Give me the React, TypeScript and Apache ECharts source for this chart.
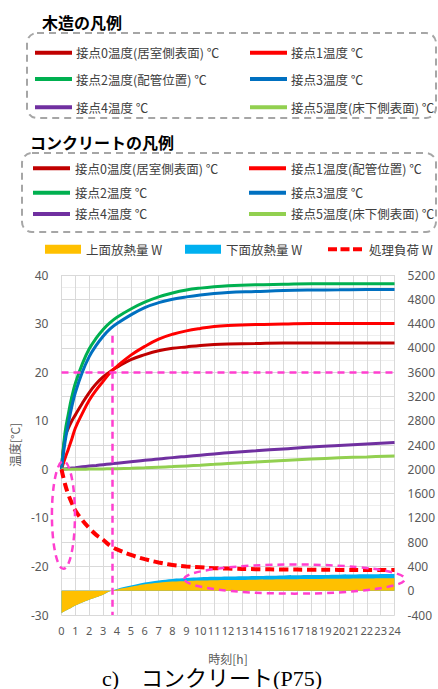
import React, { useEffect, useRef } from "react";
import * as echarts from "echarts";

// ---- data ----
const hours = [0, 0.25, 0.5, 0.75, 1, 1.5, 2, 2.5, 3, 3.5, 4, 5, 6, 7, 8, 9, 10, 11, 12, 14, 16, 18, 20, 22, 24];

const node0Temp = [0, 6.5, 8.5, 10, 11.2, 13.6, 15.8, 17.6, 19, 20.1, 21, 22.6, 23.6, 24.4, 24.9, 25.2, 25.5, 25.7, 25.8, 25.9, 26, 26, 26, 26, 26];
const node1Temp = [0, 2.2, 4.2, 6.3, 8.5, 11.5, 14.2, 16.3, 18.1, 19.9, 21.2, 23.5, 25.3, 26.8, 27.8, 28.5, 29, 29.4, 29.6, 29.8, 29.9, 30, 30, 30, 30];
const node2Temp = [0, 7.5, 11.5, 15, 17.7, 21.7, 24.8, 27, 28.8, 30.2, 31.3, 33, 34.4, 35.5, 36.3, 36.9, 37.3, 37.6, 37.8, 38, 38.1, 38.2, 38.2, 38.2, 38.2];
const node3Temp = [0, 5.5, 9.5, 13, 15.8, 20, 23.2, 25.5, 27.4, 28.9, 30, 31.8, 33.3, 34.3, 35, 35.5, 35.9, 36.2, 36.4, 36.6, 36.8, 36.9, 36.95, 37, 37];
const node4Temp = [0, 0.08, 0.17, 0.25, 0.33, 0.5, 0.66, 0.8, 0.95, 1.1, 1.25, 1.55, 1.85, 2.1, 2.4, 2.65, 2.9, 3.15, 3.4, 3.8, 4.2, 4.6, 4.9, 5.2, 5.5];
const node5Temp = [0, 0, 0, 0, 0, 0.02, 0.04, 0.06, 0.08, 0.1, 0.13, 0.2, 0.3, 0.42, 0.55, 0.7, 0.85, 1.02, 1.2, 1.5, 1.8, 2.1, 2.35, 2.55, 2.75];

const topHeat = [-370, -335, -305, -275, -245, -195, -150, -108, -65, -10, 22, 65, 105, 132, 150, 160, 167, 172, 176, 182, 188, 193, 197, 201, 204];
const bottomHeat = [0, 0, 0, 0, 0, 0, 0, 0, 0, 0, 8, 20, 30, 38, 45, 50, 53, 56, 58, 61, 64, 66, 68, 70, 71];
const processLoad = [2000, 1760, 1580, 1440, 1320, 1160, 1030, 920, 840, 740, 680, 590, 520, 465, 425, 400, 385, 372, 365, 355, 350, 346, 343, 341, 340];

const concreteLabels = [
  "接点0温度(居室側表面) ℃",
  "接点1温度(配管位置) ℃",
  "接点2温度 ℃",
  "接点3温度 ℃",
  "接点4温度 ℃",
  "接点5温度(床下側表面) ℃",
];
const woodLabels = [
  "接点0温度(居室側表面) ℃",
  "接点1温度 ℃",
  "接点2温度(配管位置) ℃",
  "接点3温度 ℃",
  "接点4温度 ℃",
  "接点5温度(床下側表面) ℃",
];
const heatLabels = ["上面放熱量 W", "下面放熱量 W", "処理負荷 W"];

const woodTitle = "木造の凡例";
const concreteTitle = "コンクリートの凡例";
const caption = "c)　コンクリート(P75)";
const xAxisName = "時刻[h]";
const yAxisName = "温度[°C]";

// annotation (reference marks)
const markTime = 3.65;
const markTemp = 20;
const markTopTemp = 27.5;

// ---- styles ----
const lineColors = ["#C00000", "#FF0000", "#00B050", "#0070C0", "#7030A0", "#92D050"];
const heatColors = ["#FFC000", "#00B0F0", "#FF0000"];
const MAGENTA = "#FF3FCF";
const FONT = '"Noto Sans CJK JP", "Noto Sans", sans-serif';
const AXIS_FONT = '"Noto Sans", "Noto Sans CJK JP", sans-serif';
const TEXT_COLOR = "#404040";
const AXIS_COLOR = "#595959";
const LEGEND_FS = 12.5;

const temps = [node0Temp, node1Temp, node2Temp, node3Temp, node4Temp, node5Temp];
const pairs = (vals: number[]) => hours.map((h, i) => [h, vals[i]]);
// stacked area: lower-side heat sits on top of upper-side heat
const stackedBottomHeat = topHeat.map((v, i) => v + bottomHeat[i]);

export default function App() {
  const ref = useRef<HTMLDivElement>(null);

  useEffect(() => {
    if (!ref.current) return;
    const chart = echarts.init(ref.current, null, { renderer: "svg" });

    const colX = [33, 249];
    const rowY = [170, 194.5, 215.7];
    const legends: any[] = concreteLabels.map((name, i) => ({
      data: [name],
      left: colX[i % 2],
      top: rowY[Math.floor(i / 2)] - 8,
      padding: 0,
      icon: "rect",
      itemWidth: 37,
      itemHeight: 4,
      selectedMode: false,
      textStyle: { fontSize: LEGEND_FS, color: TEXT_COLOR, fontFamily: FONT },
    }));
    const heatLeft = [45, 185, 328];
    heatLabels.forEach((name, i) => {
      legends.push({
        data: [
          i < 2
            ? { name, icon: "rect" }
            : { name, icon: "path://M0,0h9v4h-9z M12.5,0h9v4h-9z M25,0h9v4h-9z" },
        ],
        left: heatLeft[i],
        top: 251 - 8,
        padding: 0,
        itemWidth: i < 2 ? 36 : 34,
        itemHeight: i < 2 ? 9 : 4,
        selectedMode: false,
        textStyle: { fontSize: LEGEND_FS, color: TEXT_COLOR, fontFamily: FONT, padding: i < 2 ? 0 : [0, 0, 0, 2] },
      });
    });

    const series: any[] = temps.map((vals, i) => ({
      name: concreteLabels[i],
      type: "line",
      yAxisIndex: 0,
      data: pairs(vals),
      smooth: 0.4,
      symbol: "none",
      color: lineColors[i],
      lineStyle: { width: 3, color: lineColors[i] },
      z: 5,
    }));
    series[0].markLine = {
      silent: true,
      symbol: ["none", "none"],
      label: { show: false },
      lineStyle: { color: MAGENTA, width: 2.5, type: [7, 5] },
      data: [
        [{ coord: [0, markTemp] }, { coord: [24, markTemp] }],
        [{ coord: [markTime, markTopTemp] }, { coord: [markTime, -30] }],
      ],
      z: 8,
    };
    series.push(
      {
        name: heatLabels[0],
        type: "line",
        yAxisIndex: 1,
        data: pairs(topHeat),
        smooth: 0.4,
        symbol: "none",
        color: heatColors[0],
        lineStyle: { width: 0, color: heatColors[0] },
        areaStyle: { color: heatColors[0], opacity: 1 },
        z: 3,
      },
      {
        name: heatLabels[1],
        type: "line",
        yAxisIndex: 1,
        data: pairs(stackedBottomHeat),
        smooth: 0.4,
        symbol: "none",
        color: heatColors[1],
        lineStyle: { width: 0, color: heatColors[1] },
        areaStyle: { color: heatColors[1], opacity: 1 },
        z: 2,
      },
      {
        name: heatLabels[2],
        type: "line",
        yAxisIndex: 1,
        data: pairs(processLoad),
        smooth: 0.4,
        symbol: "none",
        color: heatColors[2],
        lineStyle: { width: 4, color: heatColors[2], type: [9, 5] },
        z: 6,
      }
    );

    chart.setOption({
      animation: false,
      backgroundColor: "#ffffff",
      legend: legends,
      grid: { left: 53, right: 41, top: 275, bottom: 74, containLabel: false },
      xAxis: {
        type: "value",
        min: 0,
        max: 24,
        interval: 1,
        axisLine: { show: false },
        axisTick: { show: false },
        axisLabel: { fontSize: 11, color: AXIS_COLOR, margin: 10, fontFamily: AXIS_FONT },
        splitLine: { show: true, lineStyle: { color: "#D9D9D9", width: 1 } },
        name: xAxisName,
        nameLocation: "middle",
        nameGap: 37,
        nameTextStyle: { fontSize: 12, color: AXIS_COLOR, fontFamily: FONT },
      },
      yAxis: [
        {
          type: "value",
          position: "left",
          min: -30,
          max: 40,
          interval: 10,
          axisLine: { show: false },
          axisTick: { show: false },
          axisLabel: { fontSize: 12, color: AXIS_COLOR, margin: 13, fontFamily: AXIS_FONT },
          splitLine: { show: true, lineStyle: { color: "#D9D9D9", width: 1 } },
          minorTick: { show: false, splitNumber: 4 },
          minorSplitLine: { show: true, lineStyle: { color: "#EEEEEE", width: 1 } },
          name: yAxisName,
          nameLocation: "middle",
          nameGap: 36,
          nameTextStyle: { fontSize: 12, color: AXIS_COLOR, fontFamily: FONT },
        },
        {
          type: "value",
          position: "right",
          min: -400,
          max: 5200,
          interval: 400,
          axisLine: { show: false },
          axisTick: { show: false },
          axisLabel: {
            fontSize: 12,
            color: AXIS_COLOR,
            margin: 13,
            fontFamily: AXIS_FONT,
            formatter: (v: number) => String(v),
          },
          splitLine: { show: true, lineStyle: { color: "#D9D9D9", width: 1 } },
        },
      ],
      series,
    });

    const toPx = (p: number[]) => chart.convertToPixel({ seriesIndex: 0 }, p) as number[];
    const ellipse = (ct: number, cv: number, ht: number, hv: number) => {
      const c = toPx([ct, cv]);
      const e = toPx([ct + ht, cv + hv]);
      return {
        type: "ellipse",
        z: 20,
        silent: true,
        shape: { cx: c[0], cy: c[1], rx: Math.abs(e[0] - c[0]), ry: Math.abs(e[1] - c[1]) },
        style: { fill: "none", stroke: MAGENTA, lineWidth: 2.5, lineDash: [7, 5] },
      };
    };

    const woodColX = [35, 250];
    const woodRowY = [52.7, 79, 107.3];
    const woodItems: any[] = [];
    woodLabels.forEach((label, i) => {
      const x = woodColX[i % 2];
      const y = woodRowY[Math.floor(i / 2)];
      woodItems.push({
        type: "line",
        shape: { x1: x, y1: y, x2: x + 37, y2: y },
        style: { stroke: lineColors[i], lineWidth: 4 },
      });
      woodItems.push({
        type: "text",
        x: x + 41,
        y: y,
        style: { text: label, fill: TEXT_COLOR, fontSize: LEGEND_FS, fontFamily: FONT, verticalAlign: "middle", align: "left" },
      });
    });

    chart.setOption({
      graphic: [
        {
          type: "text",
          x: 42,
          y: 22,
          style: { text: woodTitle, fill: "#000", fontSize: 16, fontWeight: "bold", fontFamily: FONT, verticalAlign: "middle" },
        },
        {
          type: "rect",
          shape: { x: 27, y: 33, width: 409, height: 85, r: 10 },
          style: { fill: "none", stroke: "#A6A6A6", lineWidth: 2, lineDash: [7, 5] },
        },
        ...woodItems,
        {
          type: "text",
          x: 30,
          y: 142,
          style: { text: concreteTitle, fill: "#000", fontSize: 16, fontWeight: "bold", fontFamily: FONT, verticalAlign: "middle" },
        },
        {
          type: "rect",
          shape: { x: 22, y: 153, width: 414, height: 79, r: 10 },
          style: { fill: "none", stroke: "#A6A6A6", lineWidth: 2, lineDash: [7, 5] },
        },
        {
          type: "text",
          x: 102,
          y: 678,
          style: {
            text: caption,
            fill: "#000",
            fontSize: 22,
            fontFamily: '"Liberation Serif", "Noto Sans CJK JP", serif',
            verticalAlign: "middle",
          },
        },
        ellipse(0.14, -9.4, 0.83, 11.1),
        ellipse(16.8, -22.6, 7.95, 3.0),
      ],
    });

    return () => chart.dispose();
  }, []);

  return (
    <div
      ref={ref}
      style={{ position: "fixed", left: 0, top: 0, width: 438, height: 689, background: "#fff" }}
    />
  );
}
